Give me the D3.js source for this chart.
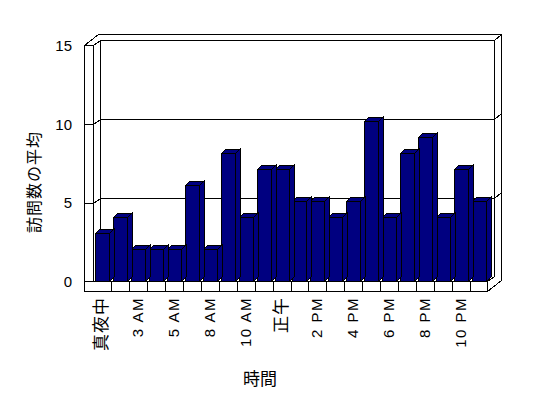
<!DOCTYPE html>
<html><head><meta charset="utf-8">
<script src="https://cdn.jsdelivr.net/npm/d3@7"></script>
<style>
html,body{margin:0;padding:0;background:#fff;}
svg{display:block;}
text{font-family:"Liberation Sans","Noto Sans CJK JP",sans-serif;fill:#000;}
.jp{font-family:"Noto Sans CJK JP","Liberation Sans",sans-serif;}
</style></head>
<body>
<script>
// ---- data ----
const categories = ["真夜中","1 AM","3 AM","4 AM","5 AM","7 AM","8 AM","9 AM","10 AM","11 AM","正午","1 PM","2 PM","3 PM","4 PM","5 PM","6 PM","7 PM","8 PM","9 PM","10 PM","11 PM"];
const values = [3,4,2,2,2,6,2,8,4,7,7,5,5,4,5,10,4,8,9,4,7,5];
const shownLabels = ["真夜中","3 AM","5 AM","8 AM","10 AM","正午","2 PM","4 PM","6 PM","8 PM","10 PM"];
const yTicks = [0,5,10,15];
const yTitle = "訪問数の平均";
const xTitle = "時間";

// ---- layout ----
const W = 548, H = 398;
const svg = d3.select("body").append("svg").attr("width", W).attr("height", H);

const xOuterL = 84.5, xInnerL = 93.5, xR = 487.5;
const floorY = 281.5, floorBot = 291.5;
const P = [7, -5];      // inner back plane offset
const Q = [14, -11];    // outer back offset
const B = [4.5, -4.5];  // bar depth

const x = d3.scaleBand().domain(categories).range([xInnerL, xR]).paddingInner(0).paddingOuter(0);
const y = d3.scaleLinear().domain([0, 15]).range([floorY, 45.5]);
const yBar = d3.scaleLinear().domain([0, 15]).range([floorY, 40]);

const line = d3.line();
const g = svg.append("g").attr("fill", "none").attr("stroke", "#000").attr("stroke-width", 1)
  .attr("shape-rendering", "crispEdges");

// outer silhouette
g.append("path").attr("fill", "#fff").attr("d", line([
  [xOuterL, y(15)], [xOuterL + Q[0], y(15) + Q[1]], [xR + Q[0], y(15) + Q[1]],
  [xR + Q[0], floorBot + Q[1]], [xR, floorBot], [xOuterL, floorBot]
]) + "Z");

// left wall inner front edge
g.append("path").attr("d", line([[xInnerL, y(15)], [xInnerL, y(0)]]));
// back wall inner rectangle
g.append("path").attr("d", line([
  [xInnerL + P[0], y(0) + P[1]], [xInnerL + P[0], y(15) + P[1]],
  [xR + P[0], y(15) + P[1]], [xR + P[0], y(0) + P[1]], [xR, y(0)]
]));
// top edges
g.append("path").attr("d", line([[xInnerL, y(15)], [xInnerL + P[0], y(15) + P[1]]]));
g.append("path").attr("d", line([[xOuterL, y(15)], [xInnerL, y(15)]]));
g.append("path").attr("d", line([[xR + P[0], y(15) + P[1]], [xR + Q[0], y(15) + Q[1]]]));
// floor front face
g.append("path").attr("d", line([[xInnerL, y(0)], [xR, y(0)], [xR, floorBot]]));
g.append("path").attr("d", line([[xOuterL, y(0)], [xInnerL, y(0)]]));

// gridlines
yTicks.filter(v => v > 0 && v < 15).forEach(v => {
  const yy = Math.round(y(v)) + 0.5;
  g.append("path").attr("d", line([
    [xOuterL, yy], [xInnerL, yy], [xInnerL + P[0], yy + P[1]],
    [xR + P[0], yy + P[1]], [xR + Q[0], yy + Q[1]]
  ]));
});

// floor dividers
categories.forEach((c, i) => {
  if (i === 0) return;
  const xx = Math.round(x(c)) + 0.5;
  g.append("path").attr("d", line([[xx, y(0)], [xx, floorBot]]));
});

// bars
const off = x.bandwidth() * 0.11, bw = x.bandwidth() * 0.78;
const bars = svg.append("g").attr("stroke", "#000").attr("stroke-width", 1).attr("fill", "#000080")
  .attr("shape-rendering", "crispEdges");
categories.map((c, i) => i).reverse().forEach(i => {
  const x0 = Math.round(x(categories[i]) + off) + 0.5, x1 = Math.round(x0 + bw) + 0.5;
  const yt = Math.round(yBar(values[i])) + 0.5, yb = y(0);
  bars.append("path").attr("d", line([[x1, yb], [x1, yt], [x1 + B[0], yt + B[1]], [x1 + B[0], yb + B[1]]]) + "Z");
  bars.append("path").attr("d", line([[x0, yt], [x0 + B[0], yt + B[1]], [x1 + B[0], yt + B[1]], [x1, yt]]) + "Z");
  bars.append("path").attr("d", line([[x0, yb], [x0, yt], [x1, yt], [x1, yb]]) + "Z");
});

// y tick labels
svg.append("g").selectAll("text").data(yTicks).join("text")
  .attr("x", 72).attr("y", d => y(d)).attr("dy", "0.36em")
  .attr("text-anchor", "end").attr("font-size", 15).text(d => d);

// x labels
svg.append("g").selectAll("text").data(shownLabels).join("text")
  .attr("transform", d => `translate(${x(d) + x.bandwidth() / 2 + 5},297) rotate(-90)`)
  .attr("text-anchor", "end")
  .attr("font-size", d => /[A-Z]/.test(d) ? 15 : 17)
  .attr("letter-spacing", d => /[A-Z]/.test(d) ? 1.5 : 1)
  .text(d => d);

// titles
svg.append("text").attr("class", "jp")
  .attr("transform", "translate(40,182) rotate(-90)")
  .attr("text-anchor", "middle").attr("font-size", 16).attr("letter-spacing", 1).text(yTitle);
svg.append("text").attr("class", "jp")
  .attr("x", 260).attr("y", 385).attr("text-anchor", "middle").attr("font-size", 17).text(xTitle);
</script>
</body></html>
